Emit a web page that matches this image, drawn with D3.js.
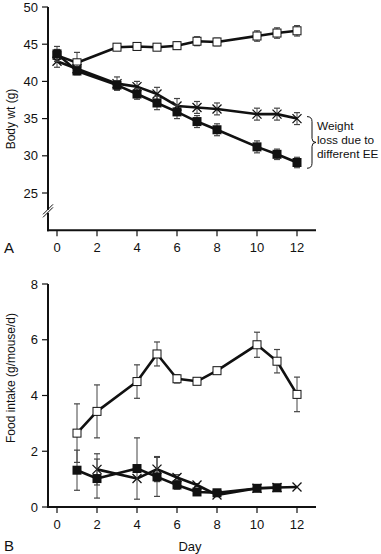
<!DOCTYPE html>
<html><head><meta charset="utf-8">
<script src="https://cdn.jsdelivr.net/npm/d3@7"></script>
<style>body{margin:0;background:#fff;} svg{display:block;} text{font-family:"Liberation Sans",Arial,sans-serif;fill:#111;}</style>
</head><body>
<svg id="c" width="381" height="554"></svg>
<script>
// Panel A: body weight (g)
const daysA = [0,1,3,4,5,6,7,8,10,11,12];
const aOpen = [43.5,42.5,44.6,44.7,44.6,44.8,45.4,45.3,46.1,46.5,46.8];
const aOpenErr = [0.8,1.4,0.4,0.4,0.4,0.5,0.6,0.5,0.7,0.7,0.7];
const aFilled = [43.7,41.4,39.5,38.3,37.1,35.9,34.6,33.5,31.2,30.2,29.1];
const aFilledErr = [1.0,0.5,0.6,0.7,0.9,0.9,0.8,0.8,0.8,0.7,0.7];
const aCross = [42.7,41.7,39.7,39.3,38.3,36.7,36.5,36.3,35.6,35.6,35.0];
const aCrossErr = [0.8,0.5,0.9,0.7,0.9,1.0,0.8,0.8,0.8,0.8,0.8];
const yTicksA = [25,30,35,40,45,50];
const xTicks = [0,2,4,6,8,10,12];

// Panel B: food intake (g/mouse/d)
const daysBOpen = [1,2,4,5,6,7,8,10,11,12];
const bOpen = [2.65,3.43,4.5,5.49,4.6,4.51,4.89,5.82,5.23,4.04];
const bOpenErr = [1.05,0.95,0.6,0.43,0.15,0,0,0.45,0.42,0.62];
const daysBFilled = [1,2,4,5,6,7,8,10,11];
const bFilled = [1.32,1.02,1.38,1.08,0.79,0.54,0.51,0.67,0.69];
const bFilledErr = [0.72,0.7,1.1,0.7,0.15,0.08,0,0.05,0.05];
const daysBCross = [2,4,5,6,7,8,10,11,12];
const bCross = [1.35,1.02,1.36,1.06,0.79,0.43,0.67,0.7,0.72];
const bCrossErr = [0.56,0,0.45,0.1,0.05,0,0,0,0];
const yTicksB = [0,2,4,6,8];

const svg = d3.select("#c");
const x = d3.scaleLinear().domain([0,12]).range([57,297]);
const yA = d3.scaleLinear().domain([25,50]).range([193,7]);
const yB = d3.scaleLinear().domain([0,8]).range([507,284]);

function axes(y, yTicks, yMin, yMax, bottomVal) {
  const g = svg.append("g");
  const y0 = y(bottomVal);
  g.append("line").attr("x1",48).attr("x2",48).attr("y1",y(yMax)).attr("y2",y0+1)
    .attr("stroke","#111").attr("stroke-width",2);
  g.append("line").attr("x1",47).attr("x2",316).attr("y1",y0).attr("y2",y0)
    .attr("stroke","#111").attr("stroke-width",2);
  yTicks.forEach(t=>{
    g.append("line").attr("x1",42).attr("x2",48).attr("y1",y(t)).attr("y2",y(t)).attr("stroke","#111").attr("stroke-width",1.2);
    g.append("text").attr("x",38).attr("y",y(t)).attr("dy","0.36em").attr("text-anchor","end").attr("font-size",13).text(t);
  });
  xTicks.forEach(t=>{
    g.append("line").attr("x1",x(t)).attr("x2",x(t)).attr("y1",y0).attr("y2",y0+6).attr("stroke","#111").attr("stroke-width",1.2);
    g.append("text").attr("x",x(t)).attr("y",y0+17).attr("dy","0.36em").attr("text-anchor","middle").attr("font-size",13).text(t);
  });
  return g;
}

function series(days, vals, errs, y, type) {
  const g = svg.append("g");
  days.forEach((d,i)=>{
    const e = errs[i]; if (!e) return;
    const xx = x(d), t = y(vals[i]+e), b = y(vals[i]-e);
    g.append("line").attr("x1",xx).attr("x2",xx).attr("y1",t).attr("y2",b).attr("stroke","#444").attr("stroke-width",1);
    [t,b].forEach(v=>g.append("line").attr("x1",xx-3).attr("x2",xx+3).attr("y1",v).attr("y2",v).attr("stroke","#444").attr("stroke-width",1.2));
  });
  const line = d3.line().x((d,i)=>x(days[i])).y(d=>y(d));
  g.append("path").attr("d",line(vals)).attr("fill","none").attr("stroke","#111").attr("stroke-width",2.6).attr("stroke-linejoin","round");
  days.forEach((d,i)=>{
    const xx = x(d), yy = y(vals[i]);
    if (type==="open") {
      g.append("rect").attr("x",xx-4).attr("y",yy-4).attr("width",8).attr("height",8).attr("fill","#fff").attr("stroke","#111").attr("stroke-width",1);
    } else if (type==="filled") {
      g.append("rect").attr("x",xx-4.5).attr("y",yy-4.5).attr("width",9).attr("height",9).attr("fill","#111");
    } else {
      const s=4.5;
      g.append("path").attr("d",`M${xx-s},${yy-s}L${xx+s},${yy+s}M${xx-s},${yy+s}L${xx+s},${yy-s}`).attr("stroke","#111").attr("stroke-width",1.3);
    }
  });
}

// Panel A
axes(yA, yTicksA, 20, 50, 20);
const bg = svg.append("g");
bg.append("rect").attr("x",46).attr("y",yA(22.6)-1).attr("width",4).attr("height",3).attr("fill","#fff");
[0,3].forEach(o=>bg.append("line").attr("x1",43).attr("y1",yA(22.6)+5+o-1.5).attr("x2",53).attr("y2",yA(22.6)-5+o-1.5).attr("stroke","#111").attr("stroke-width",1));

series(daysA, aOpen, aOpenErr, yA, "open");
series(daysA, aCross, aCrossErr, yA, "cross");
series(daysA, aFilled, aFilledErr, yA, "filled");

svg.append("text").attr("transform",`translate(15,${119}) rotate(-90)`).attr("text-anchor","middle").attr("font-size",12).text("Body wt (g)");
svg.append("text").attr("x",4).attr("y",253).attr("font-size",15).text("A");

const bTop = yA(35)-2, bBot = yA(29)+5, bMid = (bTop+bBot)/2;
svg.append("path").attr("d",`M307,${bTop} Q312,${bTop} 312,${bTop+5} L312,${bMid-4} Q312,${bMid} 316,${bMid} Q312,${bMid} 312,${bMid+4} L312,${bBot-5} Q312,${bBot} 307,${bBot}`)
  .attr("fill","none").attr("stroke","#111").attr("stroke-width",1);
["Weight","loss due to","different EE"].forEach((t,i)=>
  svg.append("text").attr("x",317).attr("y",bTop+13+i*14).attr("font-size",11.8).text(t));

// Panel B
axes(yB, yTicksB, 0, 8, 0);
series(daysBOpen, bOpen, bOpenErr, yB, "open");
series(daysBCross, bCross, bCrossErr, yB, "cross");
series(daysBFilled, bFilled, bFilledErr, yB, "filled");

svg.append("text").attr("transform",`translate(15,${378}) rotate(-90)`).attr("text-anchor","middle").attr("font-size",12).text("Food intake (g/mouse/d)");
svg.append("text").attr("x",4).attr("y",551).attr("font-size",15).text("B");
svg.append("text").attr("x",190).attr("y",551).attr("text-anchor","middle").attr("font-size",13).text("Day");
</script>
</body></html>
